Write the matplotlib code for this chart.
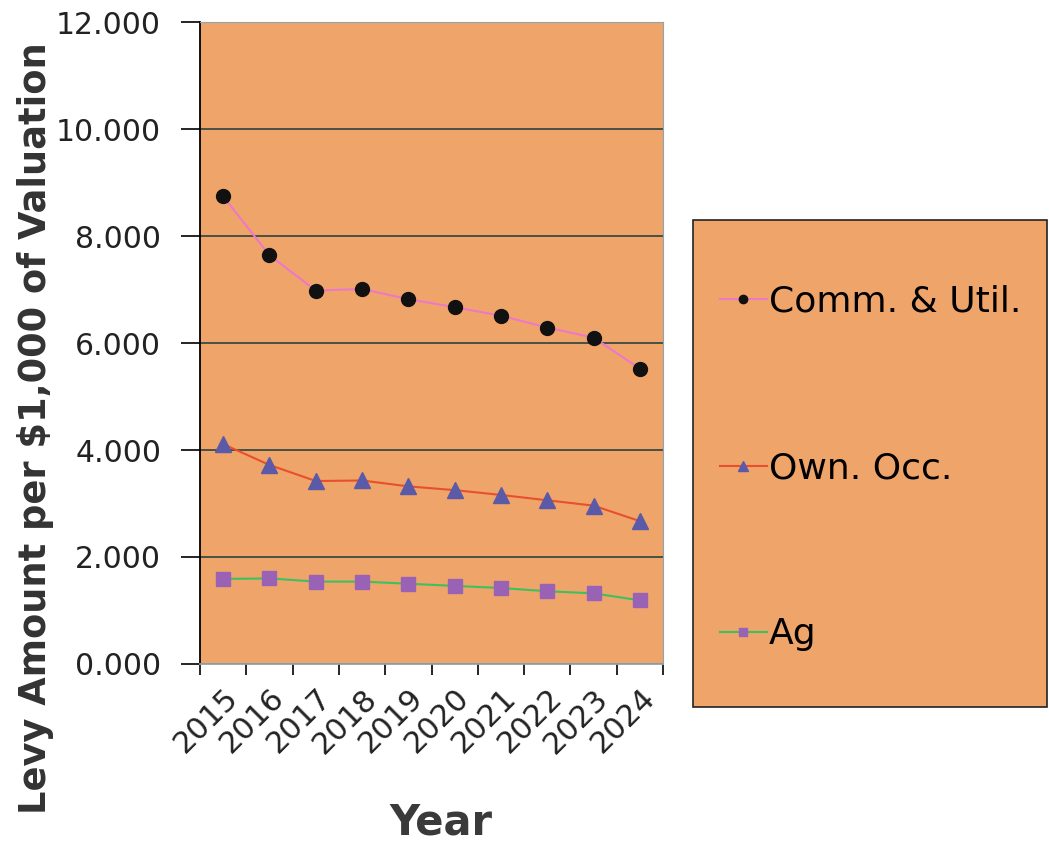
import numpy as np
import matplotlib
matplotlib.use("Agg")
import matplotlib.pyplot as plt
from matplotlib.patches import Rectangle

years = ["2015", "2016", "2017", "2018", "2019", "2020", "2021", "2022", "2023", "2024"]
comm_util = [8.74, 7.64, 6.98, 7.01, 6.82, 6.67, 6.51, 6.29, 6.10, 5.52]
own_occ = [4.11, 3.72, 3.42, 3.43, 3.32, 3.25, 3.16, 3.06, 2.96, 2.67]
ag = [1.59, 1.60, 1.54, 1.54, 1.50, 1.46, 1.42, 1.36, 1.32, 1.19]
labels = ["Comm. & Util.", "Own. Occ.", "Ag"]

bg = "#EFA46A"
grid_col = "#3c4a44"

fig = plt.figure(figsize=(10.49, 8.48), dpi=100)
ax = fig.add_axes([0.1907, 0.217, 0.4414, 0.757])
ax.set_facecolor(bg)

x = np.arange(len(years))
l1, = ax.plot(x, comm_util, color="#ee78c8", lw=1.5, marker="o", ms=10,
              mfc="#111111", mec="#111111", zorder=3)
l2, = ax.plot(x, own_occ, color="#e8502c", lw=1.5, marker="^", ms=11,
              mfc="#5a5aa8", mec="#5a5aa8", zorder=3)
l3, = ax.plot(x, ag, color="#3cc060", lw=1.5, marker="s", ms=10,
              mfc="#9a62b4", mec="#9a62b4", zorder=3)

ax.set_xlim(-0.5, len(years) - 0.5)
ax.set_ylim(0, 12)
yt = np.arange(0, 12.1, 2)
ax.set_yticks(yt)
ax.set_yticklabels([f"{v:.3f}" for v in yt], fontsize=21.5, color="#222222")
ax.yaxis.grid(True, color=grid_col, lw=1.3)
ax.set_axisbelow(True)

# year ticks sit on category boundaries, labels in the middle
ax.set_xticks(np.arange(-0.5, len(years), 1.0))
ax.set_xticklabels([])
ax.set_xticks(x, minor=True)
ax.set_xticklabels(years, minor=True, rotation=45, ha="right", va="top",
                   rotation_mode="anchor", fontsize=22, color="#222222")
ax.tick_params(axis="x", which="minor", length=0, pad=14)
ax.tick_params(axis="x", which="major", length=8, width=1.2, direction="out")
ax.tick_params(axis="y", length=14, width=1.2, direction="out", pad=14)

ax.spines["top"].set_color("#8fa4b0")
ax.spines["right"].set_color("#8fa4b0")
ax.spines["left"].set_linewidth(1.3)
ax.spines["bottom"].set_linewidth(1.3)
ax.spines["bottom"].set_color("#8fa4b0")

fig.text(0.034, 0.495, "Levy Amount per $1,000 of Valuation", rotation=90,
         ha="center", va="center", fontsize=26.5, fontweight="bold",
         color="#333333")
fig.text(0.42, 0.03, "Year", ha="center", va="center", fontsize=30,
         fontweight="bold", color="#3a3a3a")

# legend box
box = Rectangle((693 / 1049, 1 - 707 / 848), 354 / 1049, 487 / 848,
                transform=fig.transFigure, facecolor=bg, edgecolor="#222222",
                lw=1.2, zorder=1)
fig.patches.append(box)

leg = fig.legend([l1, l2, l3], labels, loc="upper left",
                 bbox_to_anchor=(720 / 1049, 1 - 285 / 848), fontsize=26,
                 frameon=False, borderpad=0, labelspacing=3.66,
                 handlelength=1.3, handletextpad=0.05, borderaxespad=0,
                 markerscale=0.6)
leg.set_zorder(2)

fig.savefig("out.png", dpi=100, facecolor="white")
